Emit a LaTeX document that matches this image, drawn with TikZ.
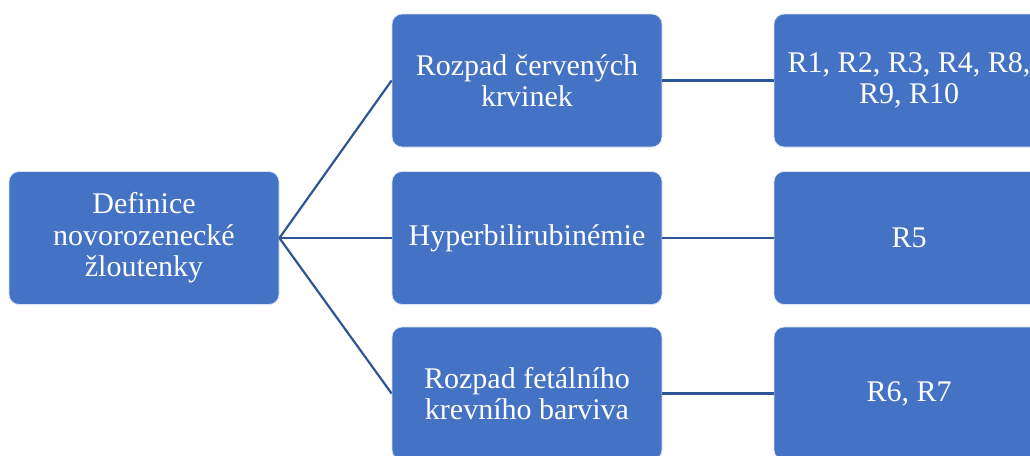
\documentclass[tikz,border=0pt]{standalone}
\usepackage{fontspec}
\setmainfont{Liberation Serif}
\definecolor{boxblue}{HTML}{4472C4}
\definecolor{lineblue}{HTML}{2F5597}
\begin{document}
\begin{tikzpicture}[x=1pt,y=-1pt,
  box/.style={draw=white!80!boxblue, line width=0.8pt, fill=boxblue, rounded corners=10pt,
    minimum width=270pt, minimum height=133pt, text=white, align=center, inner sep=4pt,
    font=\fontsize{30}{31.5}\selectfont},
  conn/.style={draw=lineblue, line width=2.2pt}]
\useasboundingbox (0,0) rectangle (1030,455);
\clip (0,0) rectangle (1030,455);
\node[box] (root) at (144,238) {Definice\\novorozenecké\\žloutenky};
\node[box] (m1) at (527,80.5) {Rozpad červených\\krvinek};
\node[box] (m2) at (527,238) {Hyperbilirubinémie};
\node[box] (m3) at (527,393.5) {Rozpad fetálního\\krevního barviva};
\node[box] (r1) at (909,80.5) {R1, R2, R3, R4, R8,\\R9, R10};
\node[box] (r2) at (909,238) {R5};
\node[box] (r3) at (909,393.5) {R6, R7};
\draw[conn] (root.east) -- (m1.west);
\draw[conn] (root.east) -- (m2.west);
\draw[conn] (root.east) -- (m3.west);
\draw[conn] (m1.east) -- (r1.west);
\draw[conn] (m2.east) -- (r2.west);
\draw[conn] (m3.east) -- (r3.west);
\end{tikzpicture}
\end{document}
